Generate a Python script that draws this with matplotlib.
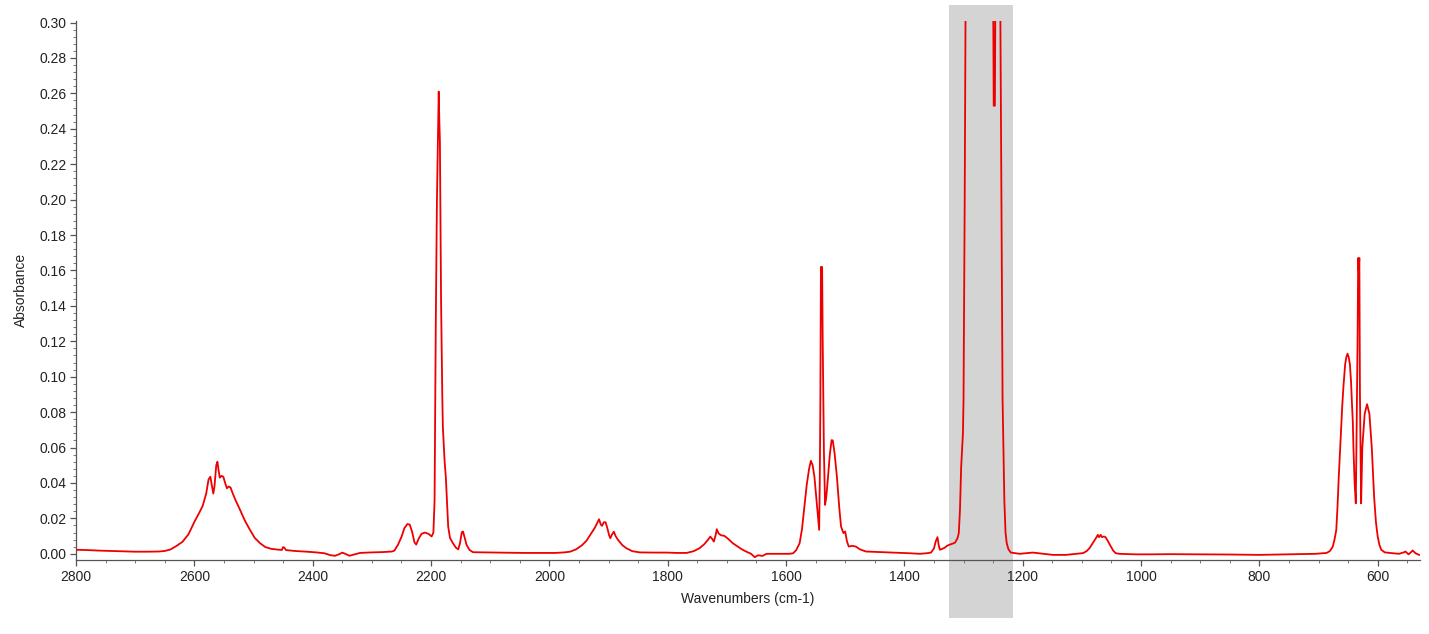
import matplotlib
matplotlib.use("Agg")
import matplotlib.pyplot as plt
from matplotlib.ticker import MultipleLocator, FormatStrFormatter
from matplotlib.patches import Rectangle

# Spectrum points, by region (wavenumber cm-1, absorbance)
wn_2800_2266 = [2800, 2780, 2760, 2740, 2720, 2700, 2680, 2660, 2650, 2640,
                2630, 2620, 2610, 2600, 2592, 2586, 2580, 2576, 2573, 2570,
                2568, 2566, 2563, 2561, 2559, 2557, 2554, 2551, 2548, 2545,
                2542, 2539, 2535, 2530, 2523, 2515, 2506, 2498, 2489, 2480,
                2470, 2460, 2452, 2450, 2448, 2445, 2430, 2410, 2394, 2380,
                2370, 2362, 2355, 2350, 2345, 2338, 2330, 2320, 2300, 2280, 2266]
ab_2800_2266 = [0.0023, 0.0021, 0.0018, 0.0016, 0.0014, 0.0012, 0.0012, 0.0013, 0.0016, 0.0025,
                0.0045, 0.0068, 0.0110, 0.0180, 0.0230, 0.0270, 0.0340, 0.0420, 0.0435, 0.0380,
                0.0340, 0.0380, 0.0500, 0.0520, 0.0470, 0.0430, 0.0440, 0.0435, 0.0400, 0.0370,
                0.0380, 0.0375, 0.0340, 0.0300, 0.0250, 0.0190, 0.0135, 0.0090, 0.0060, 0.0038,
                0.0028, 0.0024, 0.0022, 0.0038, 0.0035, 0.0021, 0.0016, 0.0012, 0.0008, 0.0003,
                -0.0008, -0.0011, -0.0002, 0.0007, 0.0000, -0.0011, -0.0004, 0.0005, 0.0008, 0.0010, 0.0013]

wn_2262_1990 = [2262, 2256, 2250, 2245, 2240, 2236, 2232, 2228, 2225, 2221,
                2216, 2210, 2204, 2199, 2196, 2194, 2192, 2190, 2188, 2187,
                2186, 2185, 2184, 2183, 2181, 2180, 2177, 2175, 2173, 2171,
                2168, 2163, 2158, 2154, 2151, 2148, 2146, 2143, 2140, 2135,
                2129, 2110, 2090, 2067, 2040, 2010, 1990]
ab_2262_1990 = [0.0018, 0.0050, 0.0095, 0.0145, 0.0168, 0.0165, 0.0125, 0.0065, 0.0052, 0.0085,
                0.0113, 0.0120, 0.0112, 0.0098, 0.0120, 0.0300, 0.1280, 0.2000, 0.2400, 0.2610,
                0.2450, 0.2330, 0.1900, 0.1420, 0.0900, 0.0717, 0.0520, 0.0435, 0.0300, 0.0154,
                0.0090, 0.0060, 0.0035, 0.0025, 0.0060, 0.0122, 0.0126, 0.0090, 0.0051, 0.0022,
                0.0009, 0.0008, 0.0007, 0.0006, 0.0005, 0.0005, 0.0005]

wn_1975_1588 = [1975, 1965, 1955, 1945, 1937, 1929, 1923, 1919, 1916, 1913,
                1911, 1908, 1905, 1902, 1899, 1897, 1894, 1891, 1888, 1884,
                1877, 1870, 1860, 1847, 1825, 1802, 1785, 1768, 1756, 1746,
                1738, 1732, 1728, 1725, 1722, 1719, 1717, 1714, 1710, 1704,
                1697, 1690, 1682, 1675, 1667, 1659, 1653, 1647, 1640, 1633,
                1620, 1611, 1595, 1588]
ab_1975_1588 = [0.0008, 0.0012, 0.0025, 0.0048, 0.0075, 0.0117, 0.0148, 0.0175, 0.0195, 0.0165,
                0.0158, 0.0178, 0.0178, 0.0145, 0.0105, 0.0088, 0.0110, 0.0125, 0.0100, 0.0079,
                0.0050, 0.0032, 0.0015, 0.0008, 0.0007, 0.0007, 0.0005, 0.0005, 0.0015, 0.0032,
                0.0055, 0.0079, 0.0097, 0.0085, 0.0069, 0.0105, 0.0139, 0.0115, 0.0105, 0.0101,
                0.0082, 0.0060, 0.0042, 0.0026, 0.0012, 0.0000, -0.0019, -0.0008, -0.0012, 0.0000,
                0.0000, 0.0000, 0.0000, 0.0003]

wn_1583_1360 = [1583, 1577, 1573, 1569, 1565, 1561, 1558, 1555, 1552, 1549,
                1546, 1544, 1543, 1542, 1541, 1540, 1539, 1538, 1536, 1534,
                1532, 1529, 1526, 1523, 1521, 1518, 1514, 1510, 1507, 1503,
                1500, 1497, 1494, 1488, 1482, 1475, 1465, 1442, 1414, 1390,
                1374, 1360]
ab_1583_1360 = [0.0020, 0.0060, 0.0140, 0.0266, 0.0390, 0.0480, 0.0525, 0.0500, 0.0435, 0.0320,
                0.0200, 0.0135, 0.0398, 0.0830, 0.1620, 0.1600, 0.1620, 0.1200, 0.0586, 0.0276,
                0.0320, 0.0435, 0.0560, 0.0642, 0.0640, 0.0570, 0.0435, 0.0260, 0.0154, 0.0117,
                0.0126, 0.0070, 0.0041, 0.0045, 0.0041, 0.0025, 0.0013, 0.0010, 0.0006, 0.0003,
                0.0000, 0.0004]

wn_1355_690 = [1355, 1350, 1347, 1344, 1342, 1340, 1336, 1332, 1328, 1324,
               1318, 1314, 1310, 1308, 1306, 1304, 1301, 1300, 1298, 1296,
               1290, 1260, 1251, 1249, 1247, 1245, 1240, 1238, 1236, 1234,
               1231, 1229, 1227, 1224, 1220, 1205, 1183, 1165, 1149, 1127,
               1110, 1098, 1092, 1087, 1082, 1078, 1075, 1073, 1071, 1068,
               1066, 1063, 1060, 1056, 1051, 1047, 1043, 1037, 1010, 986,
               950, 902, 850, 800, 750, 705, 690]
ab_1355_690 = [0.0007, 0.0030, 0.0070, 0.0094, 0.0050, 0.0023, 0.0028, 0.0034, 0.0045, 0.0051,
               0.0058, 0.0064, 0.0090, 0.0117, 0.0250, 0.0490, 0.0680, 0.0870, 0.2000, 0.3500,
               0.5000, 0.5000, 0.4000, 0.2530, 0.2530, 0.4000, 0.5000, 0.3200, 0.2000, 0.0870,
               0.0300, 0.0120, 0.0060, 0.0025, 0.0007, 0.0000, 0.0007, 0.0000, -0.0006, -0.0006,
               0.0000, 0.0004, 0.0015, 0.0032, 0.0058, 0.0079, 0.0095, 0.0107, 0.0094, 0.0107,
               0.0094, 0.0098, 0.0094, 0.0072, 0.0041, 0.0018, 0.0004, 0.0000, -0.0003, -0.0003,
               -0.0002, -0.0003, -0.0004, -0.0006, -0.0003, 0.0000, 0.0004]

wn_687_530 = [687, 681, 676, 673, 670, 668, 666, 664, 662, 660,
              658, 655, 653, 651, 649, 647, 645, 644, 642, 641,
              639, 637, 634, 633, 632, 631, 630, 628, 626, 622,
              618, 614, 610, 606, 603, 600, 597, 594, 588, 577,
              564, 556, 553, 548, 544, 541, 536, 530]
ab_687_530 = [0.0004, 0.0015, 0.0040, 0.0080, 0.0135, 0.0260, 0.0420, 0.0560, 0.0700, 0.0830,
              0.0940, 0.1070, 0.1110, 0.1130, 0.1110, 0.1070, 0.0970, 0.0886, 0.0740, 0.0600,
              0.0400, 0.0285, 0.1200, 0.1670, 0.1600, 0.1670, 0.0900, 0.0285, 0.0600, 0.0790,
              0.0845, 0.0790, 0.0600, 0.0320, 0.0180, 0.0097, 0.0050, 0.0023, 0.0008, 0.0004,
              0.0000, 0.0008, 0.0013, -0.0003, 0.0008, 0.0019, 0.0003, -0.0006]

wavenumber = (wn_2800_2266 + wn_2262_1990 + wn_1975_1588 + wn_1583_1360
              + wn_1355_690 + wn_687_530)
absorbance = (ab_2800_2266 + ab_2262_1990 + ab_1975_1588 + ab_1583_1360
              + ab_1355_690 + ab_687_530)

# Highlighted band (cm-1)
band_start = 1324
band_end = 1217

x_major = [2800, 2600, 2400, 2200, 2000, 1800, 1600, 1400, 1200, 1000, 800, 600]
y_major = [0.00, 0.02, 0.04, 0.06, 0.08, 0.10, 0.12, 0.14, 0.16, 0.18, 0.20, 0.22, 0.24, 0.26, 0.28, 0.30]

plt.rcParams['font.family'] = ['Liberation Sans', 'DejaVu Sans']

fig = plt.figure(figsize=(14.29, 6.34), dpi=100)
ax = fig.add_axes([0.0532, 0.1167, 0.9405, 0.8506])

ax.plot(wavenumber, absorbance, color='#ee0000', lw=1.3, zorder=3,
        solid_joinstyle='round')

ax.add_patch(Rectangle((band_end, -0.1075), band_start - band_end, 1.1365,
                       transform=ax.get_xaxis_transform(), facecolor='#d4d4d4',
                       edgecolor='none', clip_on=False, zorder=0.5))

ax.set_xlim(2800, 528.5)
ax.set_ylim(-0.0035, 0.301)
ax.set_xticks(x_major)
ax.set_yticks(y_major)
ax.xaxis.set_minor_locator(MultipleLocator(50))
ax.yaxis.set_minor_locator(MultipleLocator(0.004))
ax.yaxis.set_major_formatter(FormatStrFormatter('%.2f'))

for s in ['top', 'right']:
    ax.spines[s].set_visible(False)
for s in ['left', 'bottom']:
    ax.spines[s].set_color('#555555')
    ax.spines[s].set_linewidth(0.9)

ax.tick_params(axis='both', which='major', direction='out', length=4, width=0.9,
               color='#555555', labelsize=10, labelcolor='#222222', pad=3)
ax.tick_params(axis='both', which='minor', direction='out', length=2, width=0.7,
               color='#777777')
ax.patch.set_visible(False)

ax.set_xlabel('Wavenumbers (cm-1)', fontsize=10, color='#222222', labelpad=6)
ax.set_ylabel('Absorbance', fontsize=10, color='#222222', labelpad=8)

fig.savefig('out.png', dpi=100)
